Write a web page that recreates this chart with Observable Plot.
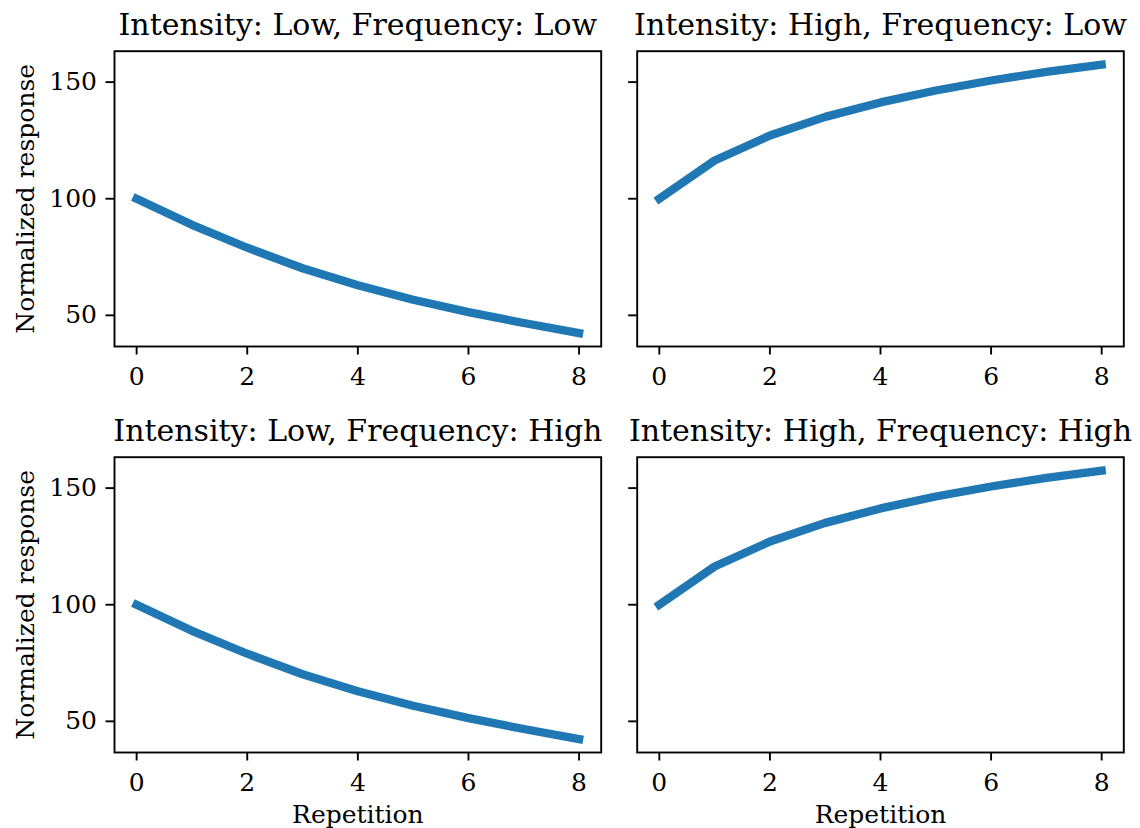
<!DOCTYPE html>
<html><head><meta charset="utf-8">
<script src="https://cdn.jsdelivr.net/npm/d3@7"></script>
<script src="https://cdn.jsdelivr.net/npm/@observablehq/plot@0.6"></script>
<style>
html,body{margin:0;padding:0;background:#fff;}
#chart{position:relative;width:1140px;height:828px;overflow:hidden;}
#chart svg{position:absolute;overflow:visible;background:transparent;}
</style></head><body><div id="chart"></div>
<script>
// ---- data ----
const repetitions = [0, 1, 2, 3, 4, 5, 6, 7, 8];
const lowIntensityResponse = [100, 88.8, 79.0, 70.2, 62.9, 56.7, 51.4, 46.7, 42.4];
const highIntensityResponse = [100, 116.4, 127.1, 135.1, 141.3, 146.4, 150.7, 154.4, 157.5];
const panelTitles = [
  "Intensity: Low, Frequency: Low",
  "Intensity: High, Frequency: Low",
  "Intensity: Low, Frequency: High",
  "Intensity: High, Frequency: High"
];
const xTicks = [0, 2, 4, 6, 8];
const yTicks = [50, 100, 150];
const yLabel = "Normalized response";
const xLabel = "Repetition";

// ---- scales (matplotlib-like 5% margins) ----
const allY = lowIntensityResponse.concat(highIntensityResponse);
const [yMin, yMax] = d3.extent(allY);
const yPad = (yMax - yMin) * 0.05;
const yDomain = [yMin - yPad, yMax + yPad];
const [xMin, xMax] = d3.extent(repetitions);
const xPad = (xMax - xMin) * 0.05;
const xDomain = [xMin - xPad, xMax + xPad];

// ---- layout ----
const cols = [
  {left: 0, width: 618, ml: 114, mr: 17.3},
  {left: 618, width: 522, ml: 18.7, mr: 16.7}
];
const rows = [
  {top: 0, height: 406, mt: 50.7, mb: 60},
  {top: 405.7, height: 422.3, mt: 50.7, mb: 76.3}
];
const font = "'DejaVu Serif', serif";
const blue = "#1f77b4";
const tickFont = 25, labelFont = 25, titleFont = 30;
const lw = 1.9;

function panel(values, title, col, row) {
  const c = cols[col], r = rows[row];
  const data = repetitions.map((x, i) => ({x, y: values[i]}));
  const marks = [
    Plot.line(data, {x: "x", y: "y", stroke: blue, strokeWidth: 8.3, strokeLinecap: "square", strokeLinejoin: "round"}),
    Plot.frame({stroke: "black", strokeWidth: lw}),
    Plot.axisX({ticks: xTicks, tickSize: 8.5, tickPadding: 12, fontSize: tickFont, strokeWidth: lw, label: null}),
    Plot.axisY({ticks: yTicks, tickSize: 8.5, tickPadding: 9, fontSize: tickFont, strokeWidth: lw,
      tickFormat: col === 0 ? (d => String(d)) : (() => ""), label: null}),
    Plot.text([title], {text: d => d, frameAnchor: "top", dy: -16, lineAnchor: "bottom", fontSize: titleFont})
  ];
  if (row === 1) {
    marks.push(Plot.text([xLabel], {text: d => d, frameAnchor: "bottom", dy: 70.6, lineAnchor: "bottom", fontSize: labelFont}));
  }
  if (col === 0) {
    marks.push(Plot.text([yLabel], {text: d => d, frameAnchor: "left", dx: -98.5, rotate: -90, textAnchor: "middle", lineAnchor: "top", fontSize: labelFont}));
  }
  const svg = Plot.plot({
    width: c.width, height: r.height,
    marginLeft: c.ml, marginRight: c.mr, marginTop: r.mt, marginBottom: r.mb,
    x: {domain: xDomain},
    y: {domain: yDomain},
    style: {fontFamily: font, fontSize: tickFont + "px", color: "black", background: "transparent", overflow: "visible"},
    marks
  });
  svg.style.left = c.left + "px";
  svg.style.top = r.top + "px";
  return svg;
}

const chart = document.getElementById("chart");
chart.appendChild(panel(lowIntensityResponse, panelTitles[0], 0, 0));
chart.appendChild(panel(highIntensityResponse, panelTitles[1], 1, 0));
chart.appendChild(panel(lowIntensityResponse, panelTitles[2], 0, 1));
chart.appendChild(panel(highIntensityResponse, panelTitles[3], 1, 1));
</script>
</body></html>
